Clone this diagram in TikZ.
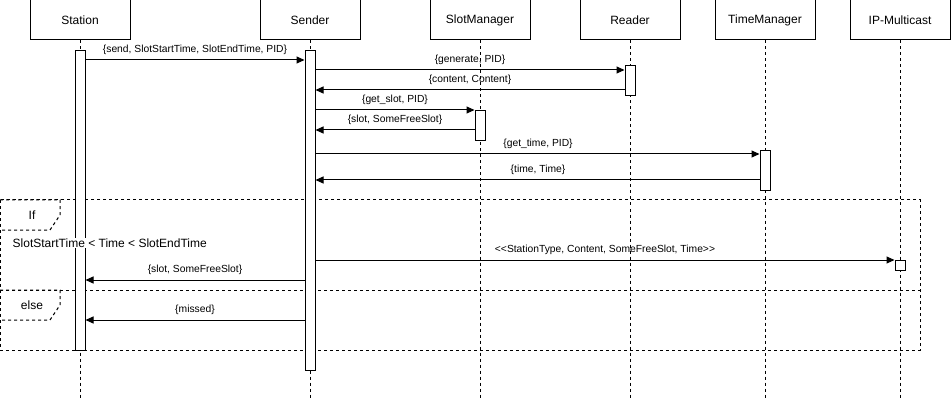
\documentclass[tikz,border=0pt]{standalone}
\usepackage{fontspec}
\setmainfont{Liberation Sans}
\usetikzlibrary{arrows.meta}
\begin{document}
\begin{tikzpicture}[x=1pt,y=-1pt,
  actor/.style={draw,fill=white,line width=1pt,minimum width=100pt,minimum height=40pt,inner sep=0pt,font=\fontsize{12}{14}\selectfont},
  lifeline/.style={line width=1pt,dash pattern=on 3pt off 3pt},
  actbox/.style={draw,fill=white,line width=1pt},
  msg/.style={line width=1pt,-{Triangle[length=8pt,width=7pt]}},
  mlabel/.style={font=\fontsize{10.3}{12}\selectfont,inner sep=0pt},
  frag/.style={line width=1pt,dash pattern=on 3pt off 3pt},
  ftext/.style={font=\fontsize{12}{14}\selectfont,inner sep=0pt}
]
\useasboundingbox (0,0) rectangle (951,401);
% actors
\node[actor] (st) at (80,20) {Station};
\node[actor] (se) at (310,20) {Sender};
\node[actor] (sm) at (480,20) {SlotManager};
\node[actor] (rd) at (630,20) {Reader};
\node[actor] (tm) at (765,20) {TimeManager};
\node[actor] (ip) at (900,20) {IP-Multicast};
% lifeline ends
\coordinate (stE) at (80,400);
\coordinate (seE) at (310,400);
\coordinate (smE) at (480,400);
\coordinate (rdE) at (630,400);
\coordinate (tmE) at (765,400);
\coordinate (ipE) at (900,400);
\draw[lifeline] (st.south) -- (stE);
\draw[lifeline] (se.south) -- (seE);
\draw[lifeline] (sm.south) -- (smE);
\draw[lifeline] (rd.south) -- (rdE);
\draw[lifeline] (tm.south) -- (tmE);
\draw[lifeline] (ip.south) -- (ipE);
% fragment
\draw[frag] (0,200) rectangle (920,350);
\draw[frag] (0,290) -- (920,290);
\draw[frag] (0,200) -- (60,200) -- (60,215) -- (50,230) -- (0,230);
\draw[frag] (0,290) -- (60,290) -- (60,305) -- (50,320) -- (0,320);
\node[ftext] (ifl) at (32,215) {If};
\node[ftext] (elsel) at (32,305) {else};
% activations
\node[actbox,minimum width=10pt,minimum height=300pt,inner sep=0pt,anchor=north] (stA) at (80,50) {};
\node[actbox,minimum width=10pt,minimum height=320pt,inner sep=0pt,anchor=north] (seA) at (310,50) {};
\node[actbox,minimum width=10pt,minimum height=30pt,inner sep=0pt,anchor=north] (rdA) at (630,65) {};
\node[actbox,minimum width=10pt,minimum height=30pt,inner sep=0pt,anchor=north] (smA) at (480,110) {};
\node[actbox,minimum width=10pt,minimum height=40pt,inner sep=0pt,anchor=north] (tmA) at (765,150) {};
\node[actbox,minimum width=10pt,minimum height=10pt,inner sep=0pt,anchor=north] (ipA) at (900,260) {};
\node[ftext,fill=white,anchor=west,inner sep=0.5pt] (cond) at (12,243) {SlotStartTime < Time < SlotEndTime};
% messages
\draw[msg] (stA.north east |- 0,60) -- (seA.north west |- 0,60);
\node[mlabel] (l1) at (195,50) {\{send, SlotStartTime, SlotEndTime, PID\}};
\draw[msg] (seA.east |- 0,70) -- (rdA.west |- 0,70);
\node[mlabel] (l2) at (470,60) {\{generate, PID\}};
\draw[msg] (rdA.west |- 0,90) -- (seA.east |- 0,90);
\node[mlabel] (l3) at (470,80) {\{content, Content\}};
\draw[msg] (seA.east |- 0,110) -- (smA.north west);
\node[mlabel] (l4) at (395,100) {\{get\_slot, PID\}};
\draw[msg] (smA.west |- 0,130) -- (seA.east |- 0,130);
\node[mlabel] (l5) at (395,120) {\{slot, SomeFreeSlot\}};
\draw[msg] (seA.east |- 0,154) -- (tmA.west |- 0,154);
\node[mlabel] (l6) at (538,144) {\{get\_time, PID\}};
\draw[msg] (tmA.west |- 0,180) -- (seA.east |- 0,180);
\node[mlabel] (l7) at (538,170) {\{time, Time\}};
\draw[msg] (seA.east |- 0,260) -- (ipA.north west);
\node[mlabel] (l8) at (605,250) {<{}<StationType, Content, SomeFreeSlot, Time>{}>};
\draw[msg] (seA.west |- 0,280) -- (stA.east |- 0,280);
\node[mlabel] (l9) at (195,270) {\{slot, SomeFreeSlot\}};
\draw[msg] (seA.west |- 0,320) -- (stA.east |- 0,320);
\node[mlabel] (l10) at (195,310) {\{missed\}};
\end{tikzpicture}
\end{document}
